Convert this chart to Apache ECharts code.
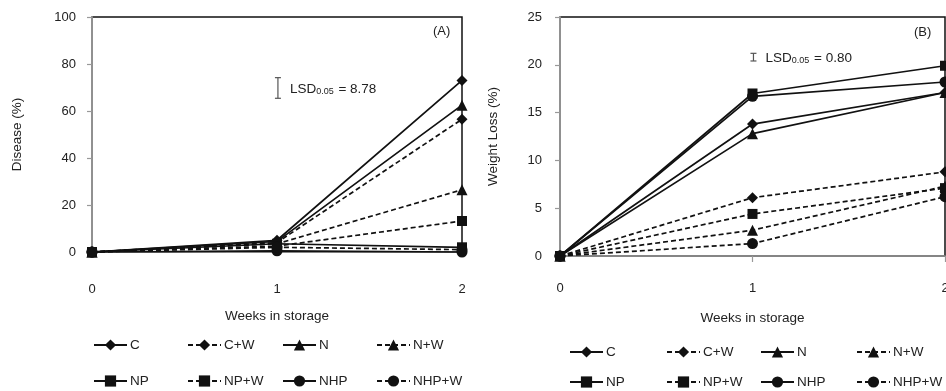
<!DOCTYPE html>
<html><head><meta charset="utf-8">
<script src="https://cdn.jsdelivr.net/npm/echarts@6/dist/echarts.min.js"></script>
<style>html,body{margin:0;padding:0;background:#fff}#c{width:946px;height:391px}</style>
</head><body><div id="c"></div>
<script>
// ---- data ----
const weeks = [0, 1, 2];
const seriesNames = ['C', 'C+W', 'N', 'N+W', 'NP', 'NP+W', 'NHP', 'NHP+W'];
const seriesSymbols = ['diamond', 'diamond', 'triangle', 'triangle', 'rect', 'rect', 'circle', 'circle'];
const seriesDashed = [false, true, false, true, false, true, false, true];

const diseaseC    = [0, 5.0, 73.0];
const diseaseCW   = [0, 4.0, 56.5];
const diseaseN    = [0, 4.5, 62.5];
const diseaseNW   = [0, 3.5, 26.5];
const diseaseNP   = [0, 3.5, 2.0];
const diseaseNPW  = [0, 2.5, 13.2];
const diseaseNHP  = [0, 0.5, 0.0];
const diseaseNHPW = [0, 2.0, 1.0];

const weightC    = [0, 13.8, 17.1];
const weightCW   = [0, 6.1, 8.8];
const weightN    = [0, 12.8, 17.1];
const weightNW   = [0, 2.7, 7.3];
const weightNP   = [0, 17.0, 19.9];
const weightNPW  = [0, 4.4, 7.1];
const weightNHP  = [0, 16.7, 18.2];
const weightNHPW = [0, 1.3, 6.2];

const diseaseTicks = [0, 20, 40, 60, 80, 100];
const weightTicks = [0, 5, 10, 15, 20, 25];
const weekTicks = [0, 1, 2];

// LSD annotation: [x position, centre value, LSD]
const lsdDisease = [1.005, 69.8, 8.78];
const lsdWeight = [1.005, 20.8, 0.80];
const lsdDiseaseText = '8.78';
const lsdWeightText = '0.80';

const diseaseSets = [diseaseC, diseaseCW, diseaseN, diseaseNW, diseaseNP, diseaseNPW, diseaseNHP, diseaseNHPW];
const weightSets = [weightC, weightCW, weightN, weightNW, weightNP, weightNPW, weightNHP, weightNHPW];

// ---- chart ----
const FONT = 'Liberation Sans, Arial, sans-serif';
const TXT = '#222';
const chart = echarts.init(document.getElementById('c'), null, {renderer: 'canvas'});

function makeSeries(sets, idx) {
  return sets.map((vals, i) => ({
    name: seriesNames[i],
    type: 'line',
    xAxisIndex: idx, yAxisIndex: idx,
    data: weeks.map((w, k) => [w, vals[k]]),
    symbol: seriesSymbols[i],
    symbolSize: seriesSymbols[i] === 'rect' ? 10 : 11,
    showSymbol: true,
    clip: false,
    lineStyle: {color: '#111', width: 1.7, type: seriesDashed[i] ? [5, 3] : 'solid'},
    itemStyle: {color: '#111'},
    emphasis: {disabled: true},
    animation: false,
    z: 3
  }));
}

function lsdSeries(d, idx, label) {
  return {
    type: 'custom', xAxisIndex: idx, yAxisIndex: idx, silent: true, animation: false, clip: false,
    data: [d],
    z: 4,
    renderItem: function (params, api) {
      const top = api.coord([api.value(0), api.value(1) + api.value(2) / 2]);
      const bot = api.coord([api.value(0), api.value(1) - api.value(2) / 2]);
      const st = {stroke: '#555', lineWidth: 1.2};
      return {
        type: 'group',
        children: [
          {type: 'line', shape: {x1: top[0], y1: top[1], x2: bot[0], y2: bot[1]}, style: st},
          {type: 'line', shape: {x1: top[0] - 3, y1: top[1], x2: top[0] + 3, y2: top[1]}, style: st},
          {type: 'line', shape: {x1: bot[0] - 3, y1: bot[1], x2: bot[0] + 3, y2: bot[1]}, style: st},
          {type: 'text', x: top[0] + 12, y: (top[1] + bot[1]) / 2,
           style: {
             text: '{m|LSD}{s|0.05}{m| = ' + label + '}',
             verticalAlign: 'middle', align: 'left',
             rich: {
               m: {fontFamily: FONT, fontSize: 13.5, fill: TXT, lineHeight: 16, verticalAlign: 'bottom'},
               s: {fontFamily: FONT, fontSize: 9, fill: TXT, lineHeight: 8, verticalAlign: 'bottom', padding: [0, 1, 0, 0]}
             }
           }}
        ]
      };
    }
  };
}

function legendCols(xs, top, gap) {
  const cols = [['C', 'NP'], ['C+W', 'NP+W'], ['N', 'NHP'], ['N+W', 'NHP+W']];
  return cols.map((names, j) => ({
    orient: 'vertical', left: xs[j], top: top, itemGap: gap,
    itemWidth: 33, itemHeight: 14, padding: 0, selectedMode: false,
    data: names,
    lineStyle: {width: 2},
    textStyle: {fontFamily: FONT, fontSize: 13.5, color: TXT, padding: [0, 0, 0, -2]}
  }));
}

const axisLabelStyle = {fontFamily: FONT, fontSize: 13, color: TXT};

const option = {
  backgroundColor: '#fff',
  animation: false,
  grid: [
    {left: 92, top: 17, width: 370, height: 235, show: true, borderColor: '#111', borderWidth: 1.5, backgroundColor: 'transparent', outerBoundsMode: 'none', containLabel: false},
    {left: 560, top: 17, width: 385, height: 239, show: true, borderColor: '#111', borderWidth: 1.5, backgroundColor: 'transparent', outerBoundsMode: 'none', containLabel: false}
  ],
  xAxis: [
    {type: 'value', gridIndex: 0, min: weekTicks[0], max: weekTicks[weekTicks.length - 1], interval: 1,
     name: 'Weeks in storage', nameLocation: 'middle', nameGap: 57,
     nameTextStyle: {fontFamily: FONT, fontSize: 13.5, color: TXT},
     axisLine: {show: true, lineStyle: {color: '#999', width: 1.5}},
     axisTick: {show: false}, splitLine: {show: false},
     axisLabel: Object.assign({margin: 31, hideOverlap: false}, axisLabelStyle)},
    {type: 'value', gridIndex: 1, min: weekTicks[0], max: weekTicks[weekTicks.length - 1], interval: 1,
     name: 'Weeks in storage', nameLocation: 'middle', nameGap: 55,
     nameTextStyle: {fontFamily: FONT, fontSize: 13.5, color: TXT},
     axisLine: {show: true, lineStyle: {color: '#999', width: 1.5}},
     axisTick: {show: true, length: 6, lineStyle: {color: '#999', width: 1.2}}, splitLine: {show: false},
     axisLabel: Object.assign({margin: 26, hideOverlap: false}, axisLabelStyle)}
  ],
  yAxis: [
    {type: 'value', gridIndex: 0, min: diseaseTicks[0], max: diseaseTicks[diseaseTicks.length - 1], interval: 20,
     name: 'Disease (%)', nameLocation: 'middle', nameGap: 68,
     nameTextStyle: {fontFamily: FONT, fontSize: 13.5, color: TXT},
     axisLine: {show: true, lineStyle: {color: '#999', width: 1.8}},
     axisTick: {show: true, length: 5, lineStyle: {color: '#999', width: 1.2}},
     splitLine: {show: false},
     axisLabel: Object.assign({margin: 16}, axisLabelStyle)},
    {type: 'value', gridIndex: 1, min: weightTicks[0], max: weightTicks[weightTicks.length - 1], interval: 5,
     name: 'Weight Loss (%)', nameLocation: 'middle', nameGap: 60,
     nameTextStyle: {fontFamily: FONT, fontSize: 13.5, color: TXT},
     axisLine: {show: true, lineStyle: {color: '#999', width: 1.8}},
     axisTick: {show: true, length: 5, lineStyle: {color: '#999', width: 1.2}},
     splitLine: {show: false},
     axisLabel: Object.assign({margin: 18}, axisLabelStyle)}
  ],
  legend: legendCols([93, 187, 282, 376], 338, 22).concat(legendCols([569, 666, 760, 856], 345, 16)),
  graphic: [
    {type: 'text', left: 433, top: 25, style: {text: '(A)', fontFamily: FONT, fontSize: 13, fill: TXT}},
    {type: 'text', left: 914, top: 26, style: {text: '(B)', fontFamily: FONT, fontSize: 13, fill: TXT}}
  ],
  series: makeSeries(diseaseSets, 0).concat(makeSeries(weightSets, 1))
    .concat([lsdSeries(lsdDisease, 0, lsdDiseaseText), lsdSeries(lsdWeight, 1, lsdWeightText)])
};
chart.setOption(option);
</script></body></html>
